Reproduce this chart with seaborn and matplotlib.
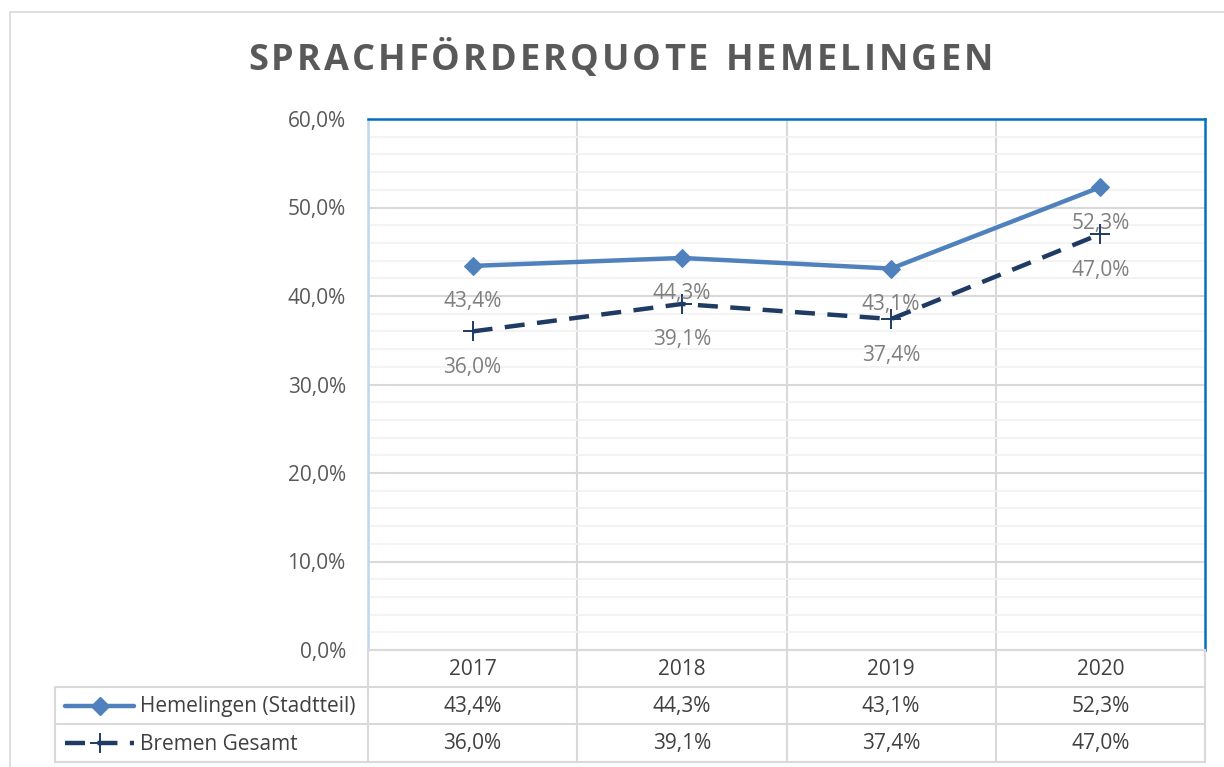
import matplotlib
matplotlib.use("Agg")
import matplotlib.pyplot as plt
import seaborn as sns
import pandas as pd
from matplotlib.lines import Line2D
from matplotlib.patches import Rectangle
from matplotlib.ticker import MultipleLocator, FuncFormatter

years = ["2017", "2018", "2019", "2020"]
hemelingen = [43.4, 44.3, 43.1, 52.3]
bremen = [36.0, 39.1, 37.4, 47.0]
series_names = ["Hemelingen (Stadtteil)", "Bremen Gesamt"]
title = "SPRACHFÖRDERQUOTE HEMELINGEN"

sns.set_style("white")
plt.rcParams['font.family'] = ['Open Sans', 'DejaVu Sans']

W, H = 1224, 767
fig = plt.figure(figsize=(W / 100, H / 100), dpi=100)

def fx(p):
    return p / W

def fy(p):
    return 1 - p / H

def pct(v):
    return f"{v:.1f}%".replace(".", ",")

# plot area
L, R, T, B = 368, 1205, 119, 650
ax = fig.add_axes([fx(L), fy(B), fx(R) - fx(L), fy(T) - fy(B)])

df = pd.DataFrame({
    "x": list(range(len(years))) * 2,
    "val": hemelingen + bremen,
    "series": [series_names[0]] * len(years) + [series_names[1]] * len(years),
})

c_hem = "#4F81BD"
c_bre = "#1F3B64"
sns.lineplot(data=df[df.series == series_names[0]], x="x", y="val", ax=ax,
             color=c_hem, lw=3.2, marker="D", markersize=9, markeredgecolor=c_hem,
             legend=False, zorder=5)
sns.lineplot(data=df[df.series == series_names[1]], x="x", y="val", ax=ax,
             color=c_bre, lw=3.2, marker="+", markersize=14, markeredgewidth=1.4,
             markeredgecolor=c_bre, legend=False, zorder=5)
ax.lines[1].set_dashes([4.5, 2.8])

ax.set_xlim(-0.5, len(years) - 0.5)
ax.set_ylim(0, 60)
ax.yaxis.set_major_locator(MultipleLocator(10))
ax.yaxis.set_minor_locator(MultipleLocator(2))
ax.set_xticks([i + 0.5 for i in range(len(years) - 1)])
ax.set_xticklabels([])
ax.tick_params(axis="x", length=0)
ax.yaxis.set_major_formatter(FuncFormatter(lambda v, p: pct(v)))
ax.tick_params(axis="y", length=0, labelsize=15, labelcolor="#595959", pad=16)
ax.grid(which="major", axis="y", color="#D9D9D9", lw=1.5, zorder=0)
ax.grid(which="minor", axis="y", color="#F2F2F2", lw=1.3, zorder=0)
ax.grid(which="major", axis="x", color="#D9D9D9", lw=1.5, zorder=0)
ax.set_xlabel("")
ax.set_ylabel("")
for s in ["top", "right"]:
    ax.spines[s].set_color("#0070C0")
    ax.spines[s].set_linewidth(1.8)
ax.spines["left"].set_color("#BDD7EE")
ax.spines["left"].set_linewidth(1.8)
ax.spines["bottom"].set_visible(False)
ax.set_axisbelow(True)

lab_col = "#7F7F7F"
for i, v in enumerate(hemelingen):
    ax.annotate(pct(v), (i, v), xytext=(0, -36),
                textcoords="offset pixels", ha="center", va="center",
                fontsize=15, color=lab_col, zorder=6)
for i, v in enumerate(bremen):
    ax.annotate(pct(v), (i, v), xytext=(0, -36),
                textcoords="offset pixels", ha="center", va="center",
                fontsize=15, color=lab_col, zorder=6)

# title with letter spacing
renderer = fig.canvas.get_renderer()
tsize = 26
tx0, tx1, ty = 248, 993, 61
widths = []
tmp = []
for ch in title:
    t = fig.text(0, 0, ch if ch != " " else "I", fontsize=tsize, fontweight="bold")
    w = t.get_window_extent(renderer).width
    if ch == " ":
        w *= 0.9
    widths.append(w)
    t.remove()
gap = ((tx1 - tx0) - sum(widths)) / (len(title) - 1)
xc = tx0
for ch, w in zip(title, widths):
    if ch != " ":
        fig.text(fx(xc), fy(ty), ch, ha="left", va="center", fontsize=tsize,
                 fontweight="bold", color="#595959")
    xc += w + gap

# chart frame
fig.patches.append(Rectangle((fx(10), fy(H + 5)), fx(W + 5) - fx(10), fy(12) - fy(H + 5),
                             transform=fig.transFigure, fill=False,
                             edgecolor="#D9D9D9", lw=1.2))

# data table
gc = "#D9D9D9"
cols = [L + (R - L) * i / len(years) for i in range(len(years) + 1)]
rows = [B, 687, 724, 762]
legL = 55
tcol = "#404040"
fs = 15

def hline(x0, x1, y):
    fig.add_artist(Line2D([fx(x0), fx(x1)], [fy(y), fy(y)], color=gc, lw=1.5,
                          transform=fig.transFigure))

def vline(x, y0, y1):
    fig.add_artist(Line2D([fx(x), fx(x)], [fy(y0), fy(y1)], color=gc, lw=1.5,
                          transform=fig.transFigure))

hline(L, R, B)
hline(legL, R, rows[1])
hline(legL, R, rows[2])
hline(legL, R, rows[3])
for x in cols:
    vline(x, B, rows[3])
vline(legL, rows[1], rows[3])

for i, yv in enumerate(years):
    cx = fx((cols[i] + cols[i + 1]) / 2)
    fig.text(cx, fy((rows[0] + rows[1]) / 2 + 1), yv,
             ha="center", va="center", fontsize=fs, color=tcol)
    fig.text(cx, fy((rows[1] + rows[2]) / 2 + 1), pct(hemelingen[i]),
             ha="center", va="center", fontsize=fs, color=tcol)
    fig.text(cx, fy((rows[2] + rows[3]) / 2 + 1), pct(bremen[i]),
             ha="center", va="center", fontsize=fs, color=tcol)

# legend keys
y1 = (rows[1] + rows[2]) / 2
y2 = (rows[2] + rows[3]) / 2
fig.add_artist(Line2D([fx(65), fx(134)], [fy(y1), fy(y1)], color=c_hem, lw=3.2,
                      transform=fig.transFigure))
fig.add_artist(Line2D([fx(100)], [fy(y1)], color=c_hem, marker="D", markersize=9,
                      transform=fig.transFigure))
fig.add_artist(Line2D([fx(65), fx(134)], [fy(y2), fy(y2)], color=c_bre, lw=3.2,
                      dashes=[4.5, 2.8], transform=fig.transFigure))
fig.add_artist(Line2D([fx(100)], [fy(y2)], color=c_bre, marker="+", markersize=14,
                      markeredgewidth=1.4, transform=fig.transFigure))
fig.text(fx(140), fy(y1 + 1), series_names[0], ha="left", va="center", fontsize=fs, color=tcol)
fig.text(fx(140), fy(y2 + 1), series_names[1], ha="left", va="center", fontsize=fs, color=tcol)

fig.savefig("out.png", dpi=100)
